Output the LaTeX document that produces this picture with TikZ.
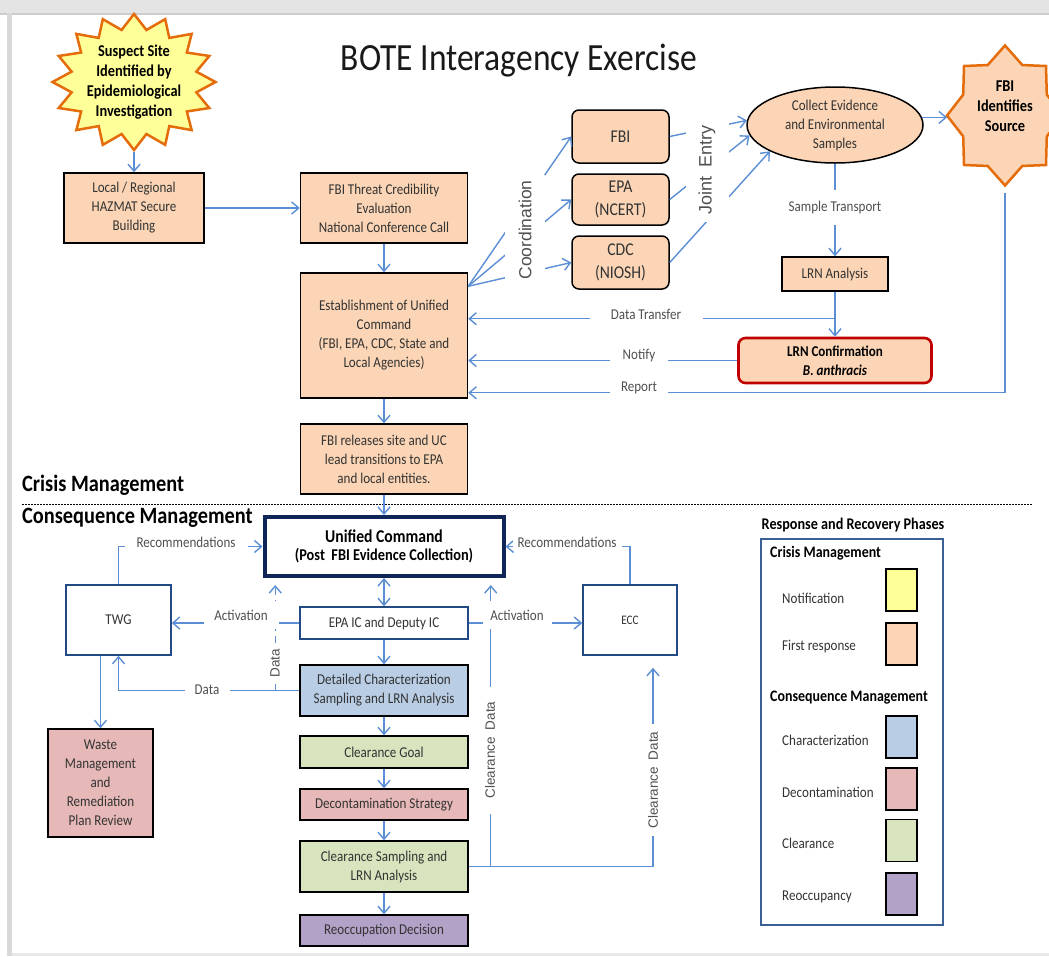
\documentclass[tikz,border=0pt]{standalone}
\usepackage{fontspec}
\setmainfont{Carlito}[FakeStretch=0.87]
\newfontfamily\rotfont{Liberation Sans}
\usetikzlibrary{arrows.meta,calc,shapes.geometric}
\definecolor{peach}{HTML}{FBD5B5}
\definecolor{cyellow}{HTML}{FFFF99}
\definecolor{cblue}{HTML}{B9CDE5}
\definecolor{cpink}{HTML}{E6B9B8}
\definecolor{cgreen}{HTML}{D7E4BD}
\definecolor{cpurple}{HTML}{B3A2C7}
\definecolor{corange}{HTML}{E46C0A}
\definecolor{cred}{HTML}{C00000}
\definecolor{ucnavy}{HTML}{0F2557}
\definecolor{bnavy}{HTML}{244A85}
\definecolor{lnavy}{HTML}{3A5F95}
\definecolor{lineblue}{HTML}{5B8ED4}
\definecolor{txtgray}{HTML}{333333}
\definecolor{lblgray}{HTML}{505050}
\definecolor{bgray}{HTML}{E4E4E4}
\newcommand\fsn{\fontsize{15}{19}\selectfont}
\newcommand\fsb{\fontsize{18}{23}\selectfont}
\tikzset{
  >={Straight Barb[length=7pt,width=12pt]},
  box/.style={draw=black, line width=1.5pt, fill=peach, align=center, text=txtgray, font=\fsn, inner sep=1pt},
  rbox/.style={box, rounded corners=7pt, font=\fsb, minimum width=97pt},
  nbox/.style={box, draw=bnavy, fill=white},
  conn/.style={draw=lineblue, line width=1.4pt, ->},
  lbl/.style={fill=white, text=lblgray, font=\fsn, inner sep=2pt},
  rlbl/.style={fill=white, text=lblgray, rotate=90, inner sep=1pt},
  starbold/.style={font=\bfseries\fontsize{16.5}{20}\selectfont, align=center, text=black},
  swatch/.style={draw=black, line width=1.5pt, minimum width=31pt, minimum height=42pt, inner sep=0pt},
  legtxt/.style={anchor=west, text=txtgray, font=\fsn, inner sep=0pt},
  leghead/.style={anchor=west, text=black, font=\bfseries\fontsize{16}{19}\selectfont, inner sep=0pt}
}
\begin{document}
\begin{tikzpicture}[x=1pt,y=-1pt]
\useasboundingbox (0,0) rectangle (1049,956);
% page frame
\fill[white] (0,0) rectangle (1049,956);
\fill[bgray] (0,0) rectangle (1049,13);
\draw[draw=black!20, line width=1.5pt] (0,14) -- (1049,14);
\fill[black!15] (7,13) rectangle (12,956);
\fill[black!9] (12,953) rectangle (1049,956);

% title
\node[anchor=base, font=\fontsize{38.5}{44}\selectfont, text=black!90] (title) at (519,70) {BOTE Interagency Exercise};

% suspect star
\filldraw[fill=cyellow, draw=corange, line width=2.5pt, line join=miter]
  plot[variable=\i, samples at={0,...,31}]
  ({134+81.5*(mod(\i,2)==0?1:0.78)*cos(90+11.25*\i)}, {82-68*(mod(\i,2)==0?1:0.78)*sin(90+11.25*\i)}) -- cycle;
\node[starbold] (suspect) at (134,82) {Suspect Site\\Identified by\\Epidemiological\\Investigation};
\coordinate (suspS) at (134,152);

% FBI identifies source star
\filldraw[fill=peach, draw=corange, line width=2.5pt, line join=miter]
  plot[variable=\i, samples at={0,...,15}]
  ({1005+58*(mod(\i,2)==0?1:0.78)*cos(90+22.5*\i)}, {115.5-70*(mod(\i,2)==0?1:0.78)*sin(90+22.5*\i)}) -- cycle;
\node[starbold] (fbisrc) at (1005,106) {FBI\\Identifies\\Source};
\coordinate (fbiW) at (947,115.5);
\coordinate (fbiB) at (1005,193);

% crisis management boxes
\node[box, minimum width=140pt, minimum height=70pt] (local) at (134,208) {Local / Regional\\HAZMAT Secure\\Building};
\node[box, minimum width=167pt, minimum height=70pt] (threat) at (384,208) {FBI Threat Credibility\\Evaluation\\National Conference Call};
\node[box, minimum width=167pt, minimum height=125pt] (estab) at (384,335.5) {Establishment of Unified\\Command\\(FBI, EPA, CDC, State and\\Local Agencies)};
\node[box, minimum width=167pt, minimum height=70pt] (release) at (384,459) {FBI releases site and UC\\lead transitions to EPA\\and local entities.};
\node[rbox, minimum height=53pt] (fbi) at (620.5,136.5) {FBI};
\node[rbox, minimum height=51pt] (epa) at (620.5,199.5) {EPA\\(NCERT)};
\node[rbox, minimum height=53pt] (cdc) at (620.5,262.5) {CDC\\(NIOSH)};
\node[box, ellipse, minimum width=176pt, minimum height=76pt, inner sep=0pt] (collect) at (835,125) {Collect Evidence\\and Environmental\\Samples};
\node[box, minimum width=106pt, minimum height=34pt] (lrna) at (835,274) {LRN Analysis};
\node[box, draw=cred, line width=2.6pt, rounded corners=7pt, minimum width=193pt, minimum height=45pt, text=black, font=\bfseries\fsn] (lrnc) at (835,360.5) {LRN Confirmation\\\textit{B. anthracis}};

% section headings
\node[anchor=west, font=\bfseries\fontsize{23.4}{27}\selectfont, inner sep=0pt] (crisis) at (22,485) {Crisis Management};
\node[anchor=west, font=\bfseries\fontsize{23.4}{27}\selectfont, inner sep=0pt] (conseq) at (22,518) {Consequence Management};
\draw[line width=1pt, dash pattern=on 1.6pt off 1.4pt] (crisis.west |- 0,504) coordinate (dl) -- (1032,504) coordinate (dr);

% consequence management boxes
\node[box, draw=ucnavy, line width=4pt, fill=white, text=black, minimum width=239pt, minimum height=59pt, inner sep=0pt] (uc) at (384,546.5) {\bfseries\fontsize{18}{22}\selectfont Unified Command\\[-1pt]\bfseries\fontsize{16.5}{20}\selectfont (Post\ \ FBI Evidence Collection)};
\node[nbox, minimum width=168pt, minimum height=32pt] (epaic) at (384,623) {EPA IC and Deputy IC};
\node[box, fill=cblue, minimum width=168pt, minimum height=51pt] (detail) at (384,690.5) {Detailed Characterization\\Sampling and LRN Analysis};
\node[box, fill=cgreen, minimum width=168pt, minimum height=32pt] (cgoal) at (384,752) {Clearance Goal};
\node[box, fill=cpink, minimum width=168pt, minimum height=31pt] (decon) at (384,804.5) {Decontamination Strategy};
\node[box, fill=cgreen, minimum width=168pt, minimum height=51pt] (csamp) at (384,866.5) {Clearance Sampling and\\LRN Analysis};
\node[box, fill=cpurple, minimum width=168pt, minimum height=31pt] (reocc) at (384,930.5) {Reoccupation Decision};
\node[nbox, minimum width=105pt, minimum height=70pt] (twg) at (118.5,620) {TWG};
\node[box, fill=cpink, minimum width=105pt, minimum height=108pt] (waste) at (100.5,783) {Waste\\Management\\and\\Remediation\\Plan Review};
\node[nbox, minimum width=94pt, minimum height=70pt, font=\fontsize{13}{16}\selectfont] (ecc) at (630,620) {ECC};

% crisis connectors
\draw[conn] (suspS) -- (local.north);
\draw[conn] (local) -- (threat);
\draw[conn] (threat) -- (estab);
\draw[conn] (estab) -- (release);
\draw[conn] (release) -- (uc);
\coordinate (cs) at ($(estab.north east)+(0,14)$);
\draw[conn] (cs) -- (fbi.west);
\draw[conn] (cs) -- (epa.west);
\draw[conn] (cs) -- (cdc.west);
\draw[conn] (fbi.east) -- (collect.177);
\draw[conn] (epa.east) -- (collect.187);
\draw[conn] (cdc.east) -- (collect.202);
\draw[conn] (collect.5) -- (collect.5 -| fbiW);
\draw[conn] (collect.south) -- (lrna.north);
\draw[conn] (lrna) -- (lrnc);
\coordinate (dtj) at ($(lrna.south)!0.6!(lrnc.north)$);
\draw[conn] (dtj) -- (dtj -| estab.east);
\draw[conn] (lrnc.west) -- (lrnc.west -| estab.east);
\coordinate (rep) at ($(estab.south east)+(0,-6)$);
\draw[conn] (fbiB) |- (rep);

% consequence connectors
\draw[conn, <->] (uc) -- (epaic);
\draw[conn] (epaic) -- (detail);
\draw[conn] (detail) -- (cgoal);
\draw[conn] (cgoal) -- (decon);
\draw[conn] (decon) -- (csamp);
\draw[conn] (csamp) -- (reocc);
\draw[conn] (epaic.west) -- (twg.east |- epaic.west);
\draw[conn] (epaic.east) -- (ecc.west |- epaic.east);
\coordinate (dj) at ($(detail.west)+(-24,0)$);
\draw[conn] (detail.west) -| (twg.south);
\draw[conn, dash pattern=on 7pt off 5pt, shorten >=7pt] (dj) -- (dj |- uc.south);
\draw[conn] (twg.north) |- (uc.west);
\draw[conn] (ecc.north) |- (uc.east);
\coordinate (cdj) at ($(csamp.east)+(22,0)$);
\coordinate (eccd) at ($(ecc.south)+(23,0)$);
\draw[conn, shorten >=12pt] (csamp.east) -| (eccd);
\draw[conn, shorten >=7pt] (cdj) -- (cdj |- uc.south);
\draw[conn] (waste.north |- twg.south) -- (waste.north);

% connector labels
\node[rlbl, font=\rotfont\fontsize{17.5}{20}\selectfont, minimum width=110pt, minimum height=40pt] (lcoord) at (525,230) {Coordination};
\node[rlbl, font=\rotfont\fontsize{18}{20}\selectfont, minimum width=103pt, minimum height=43pt] (ljoint) at (707,170) {Joint\hspace{0.45em}Entry};
\node[lbl, minimum height=35pt] (lsample) at (835,207) {Sample Transport};
\node[lbl, minimum width=113pt] (ldt) at (646,314) {Data Transfer};
\node[lbl, minimum width=58pt] (lnotify) at (639,356) {Notify};
\node[lbl, minimum width=58pt] (lreport) at (639,388) {Report};
\node[lbl, minimum width=123pt] (lrecl) at (186,542) {Recommendations};
\node[lbl, minimum width=109pt] (lrecr) at (567,542) {Recommendations};
\node[lbl, minimum width=75pt, minimum height=28pt] (lactl) at (241,615) {Activation};
\node[lbl, minimum width=69pt, minimum height=28pt] (lactr) at (517,615) {Activation};
\node[lbl, minimum width=45pt] (ldata) at (207,690) {Data};
\node[rlbl, font=\rotfont\fontsize{13.5}{16}\selectfont, minimum width=36pt] (ldatav) at (275,663) {Data};
\node[rlbl, font=\rotfont\fontsize{13.5}{16}\selectfont, minimum width=112pt] (lcd1) at (653,780) {Clearance\hspace{0.5em}Data};
\node[rlbl, font=\rotfont\fontsize{13.5}{16}\selectfont, minimum width=127pt] (lcd2) at (490,750) {Clearance\hspace{0.5em}Data};

% legend
\node[font=\bfseries\fontsize{16.3}{19}\selectfont, inner sep=0pt] (legtitle) at (853,525) {Response and Recovery Phases};
\node[draw=lnavy, line width=2.3pt, minimum width=182pt, minimum height=386pt, inner sep=0pt] (legbox) at (852,732) {};
\node[leghead] (lgcrisis) at (770,553) {Crisis Management};
\node[legtxt] (lgnot) at (782,598) {Notification};
\node[swatch, fill=cyellow] (swnot) at (901.5,590) {};
\node[legtxt] (lgfirst) at (782,647) {First response};
\node[swatch, fill=peach] (swfirst) at (901.5,644) {};
\node[leghead] (lgcons) at (770,698) {Consequence Management};
\node[legtxt] (lgchar) at (782,740) {Characterization};
\node[swatch, fill=cblue] (swchar) at (901.5,737) {};
\node[legtxt] (lgdecon) at (782,792) {Decontamination};
\node[swatch, fill=cpink] (swdecon) at (901.5,789) {};
\node[legtxt] (lgclear) at (782,843) {Clearance};
\node[swatch, fill=cgreen] (swclear) at (901.5,840.5) {};
\node[legtxt] (lgreocc) at (782,897) {Reoccupancy};
\node[swatch, fill=cpurple] (swreocc) at (901.5,894) {};
\end{tikzpicture}
\end{document}
